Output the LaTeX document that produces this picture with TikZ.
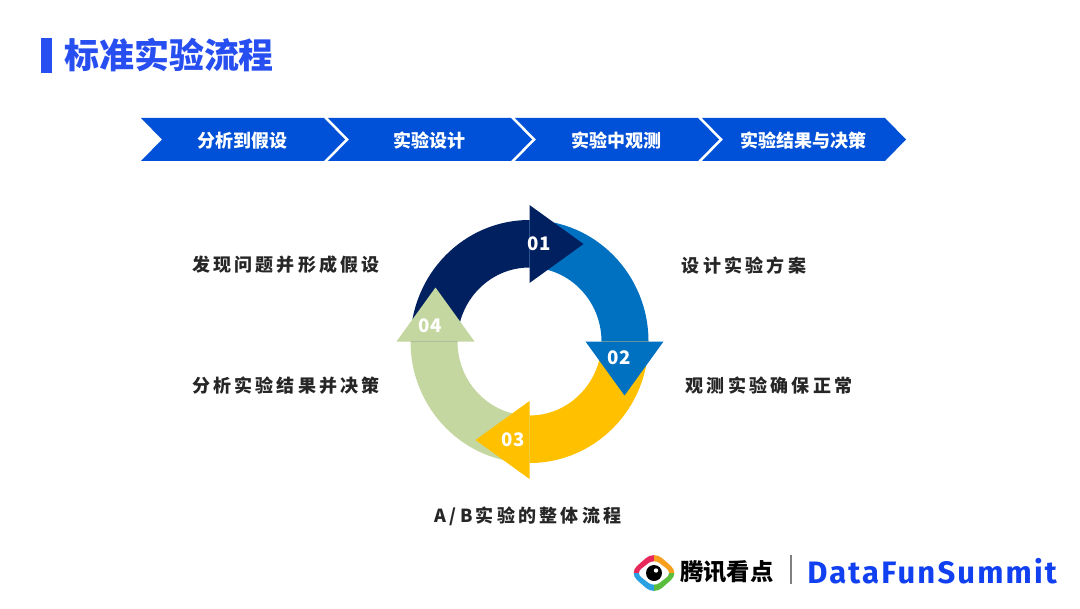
\documentclass[tikz,border=0pt]{standalone}
\usepackage{fontspec}
\setmainfont{Noto Sans CJK SC}
\newfontfamily\logofont{Fira Sans}
\usetikzlibrary{positioning}
\definecolor{titleblue}{RGB}{38,78,240}
\definecolor{chevblue}{RGB}{0,80,216}
\definecolor{ringnavy}{RGB}{0,32,96}
\definecolor{ringblue}{RGB}{0,112,192}
\definecolor{ringgold}{RGB}{255,192,0}
\definecolor{ringgreen}{RGB}{197,215,160}
\definecolor{labelgray}{RGB}{38,38,38}
\definecolor{logoblue}{RGB}{16,64,240}
\definecolor{logored}{RGB}{232,40,90}
\definecolor{logoorange}{RGB}{248,160,30}
\definecolor{logogreen}{RGB}{90,190,60}
\definecolor{logosky}{RGB}{40,160,225}
\tikzset{
  chevron/.style={fill=chevblue, draw=none},
  chevtext/.style={text=white, font=\fontsize{13.5}{16}\selectfont\bfseries, inner sep=0pt},
  steplabel/.style={text=labelgray, font=\fontsize{13.5}{16}\selectfont\bfseries\addfontfeature{LetterSpace=18}, inner sep=0pt},
  ringnum/.style={text=white, font=\fontsize{14}{16}\selectfont\bfseries, inner sep=0pt}
}
\begin{document}
\begin{tikzpicture}[x=0.75pt,y=0.75pt]
\useasboundingbox (0,0) rectangle (1080,608);
% title
\fill[titleblue] (41,535) rectangle (52,570);
\node[anchor=west, text=titleblue, font=\fontsize{26.2}{30}\selectfont\bfseries, inner sep=0pt] (title) at (64,553) {标准实验流程};
% top chevrons
\foreach \px/\txt [count=\i] in {141/分析到假设, 328/实验设计, 515/实验中观测, 702/实验结果与决策}{
  \fill[chevron] (\px,490) -- (\px+183,490) -- (\px+204,468.5) -- (\px+183,447) -- (\px,447) -- (\px+21,468.5) -- cycle;
  \node[chevtext] (chev\i) at (\px+101.5,467.5) {\txt};
}
% ring
\begin{scope}[shift={(529.5,266.5)}]
\foreach \ang/\col in {90/ringnavy, 0/ringblue, -90/ringgold, -180/ringgreen}{
  \fill[\col] (\ang+90:119 and 121.5) arc (\ang+90:\ang:119 and 121.5) -- (\ang:72 and 74) arc (\ang:\ang+90:72 and 74) -- cycle;
}
\foreach \ang/\col/\off in {0/ringnavy/97.5, -90/ringblue/95, -180/ringgold/98.5, -270/ringgreen/94}{
  \fill[\col, rotate=\ang] (0,\off+39) -- (0,\off-39) -- (54,\off) -- cycle;
}
\end{scope}
\node[ringnum] (n1) at (539,364) {01};
\node[ringnum] (n2) at (619,250) {02};
\node[ringnum] (n3) at (513,168) {03};
\node[ringnum] (n4) at (430,282) {04};
% step labels
\node[steplabel] (find) at (286,343) {发现问题并形成假设};
\node[steplabel] (plan) at (744,342) {设计实验方案};
\node[steplabel] (decide) at (286,222) {分析实验结果并决策};
\node[steplabel] (watch) at (769,222) {观测实验确保正常};
\node[steplabel] (whole) at (528,92) {A/B实验的整体流程};
% logo
\begin{scope}[shift={(654,35)}]
\begin{scope}
\clip[rounded corners=8pt] (-25,0) -- (0,22) -- (25,0) -- (0,-22) -- cycle;
\fill[logored] (-25,0) rectangle (0,22);
\fill[logoorange] (0,0) rectangle (25,22);
\fill[logogreen] (0,-22) rectangle (25,0);
\fill[logosky] (-25,-22) rectangle (0,0);
\end{scope}
\fill[white, rounded corners=5pt] (-18,0) -- (0,14) -- (18,0) -- (0,-14) -- cycle;
\fill[black] (0,0) circle (8);
\fill[white] (2,2.5) circle (2.2);
\end{scope}
\node[anchor=west, text=black, font=\fontsize{17.5}{20}\selectfont\bfseries, inner sep=0pt] (brand) at (680,36) {腾讯看点};
\draw[gray, line width=0.8pt] (791,24) -- (791,53);
\node[anchor=west, text=logoblue, font=\logofont\bfseries\fontsize{23.25}{28}\selectfont\addfontfeature{LetterSpace=7}, inner sep=0pt] (dfs) at (807,37) {DataFunSummit};
\end{tikzpicture}
\end{document}
